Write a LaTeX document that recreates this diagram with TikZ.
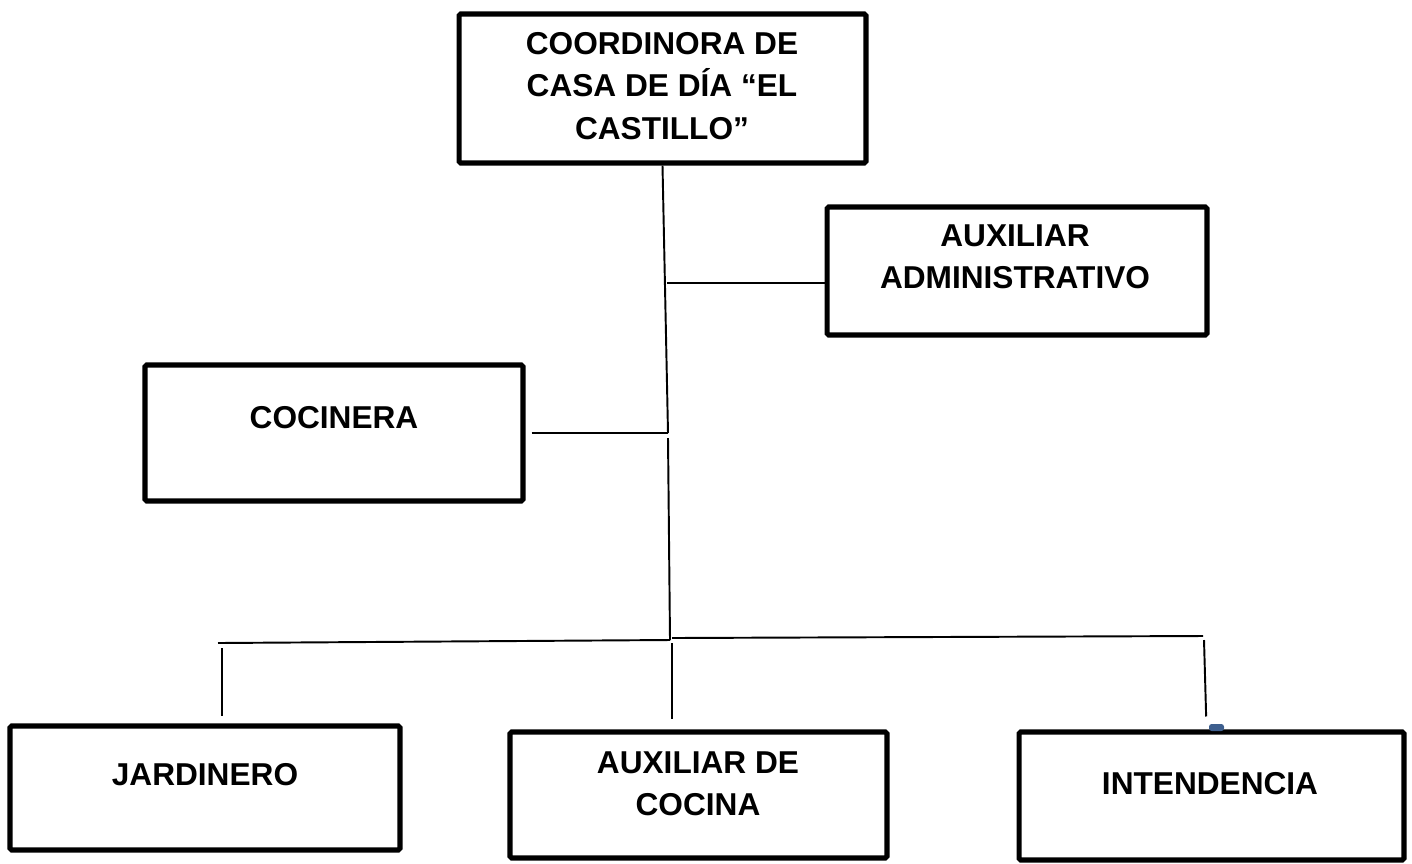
\documentclass[tikz,border=0pt]{standalone}
\usepackage{fontspec}
\setmainfont{Liberation Sans}
\usepackage{tikz}
\usetikzlibrary{positioning}
\definecolor{handleblue}{HTML}{3E5F8E}

\begin{document}
\begin{tikzpicture}[x=0.02cm,y=-0.02cm]
\tikzstyle{box}=[rectangle,draw,line width=2.9pt,rounded corners=1pt,inner sep=0pt]
\tikzstyle{txt}=[align=center,font=\bfseries\fontsize{18}{24}\selectfont,inner sep=0pt]
\tikzstyle{con}=[line width=1.1pt]
\useasboundingbox (0,0) rectangle (1412,863);

% boxes
\node[box,minimum width=8.14cm,minimum height=2.98cm] (coord) at (662.5,88.5) {};
\node[box,minimum width=7.6cm,minimum height=2.56cm] (auxadm) at (1017,271) {};
\node[box,minimum width=7.56cm,minimum height=2.72cm] (cocinera) at (334,433) {};
\node[box,minimum width=7.8cm,minimum height=2.48cm] (jardinero) at (205,788) {};
\node[box,minimum width=7.54cm,minimum height=2.52cm] (auxcocina) at (698.5,795) {};
\node[box,minimum width=7.7cm,minimum height=2.56cm] (intendencia) at (1211.5,796) {};

% texts
\node[txt] (tcoord) at (662,86) {COORDINORA DE\\CASA DE DÍA “EL\\CASTILLO”};
\node[txt] (tauxadm) at (1015,257) {AUXILIAR\\ADMINISTRATIVO};
\node[txt] (tcocinera) at (334,418) {COCINERA};
\node[txt] (tjardinero) at (205,774.5) {JARDINERO};
\node[txt] (tauxcocina) at (698,783.5) {AUXILIAR DE\\COCINA};
\node[txt] (tintendencia) at (1210,784) {INTENDENCIA};

% junctions
\coordinate (c1) at (668,433);
\coordinate (c2) at (668,438);
\coordinate (c3) at (670,640);
\coordinate (c4) at (672,638);
\coordinate (a1) at (667,283);
\coordinate (b1) at (218,643);
\coordinate (b2) at (1203,636);
\coordinate (d1) at (222,648);
\coordinate (d2) at (672,643);
\coordinate (d3) at (1204,640);

% connectors
\draw[con] (coord.south) -- (c1);
\draw[con] (a1) -- (a1 -| auxadm.west);
\draw[con,shorten <=0.12cm] (cocinera.east |- c1) -- (c1);
\draw[con] (c2) -- (c3);
\draw[con] (b1) -- (c3);
\draw[con] (c4) -- (b2);
\draw[con,shorten >=0.14cm] (d1) -- (d1 |- jardinero.north);
\draw[con,shorten >=0.2cm] (d2) -- (d2 |- auxcocina.north);
\draw[con,shorten >=0.26cm] (d3) -- ([xshift=0.05cm]d3 |- intendencia.north);

% handle
\fill[handleblue,rounded corners=1.5pt] (1209,724) rectangle (1224,731);
\end{tikzpicture}
\end{document}
